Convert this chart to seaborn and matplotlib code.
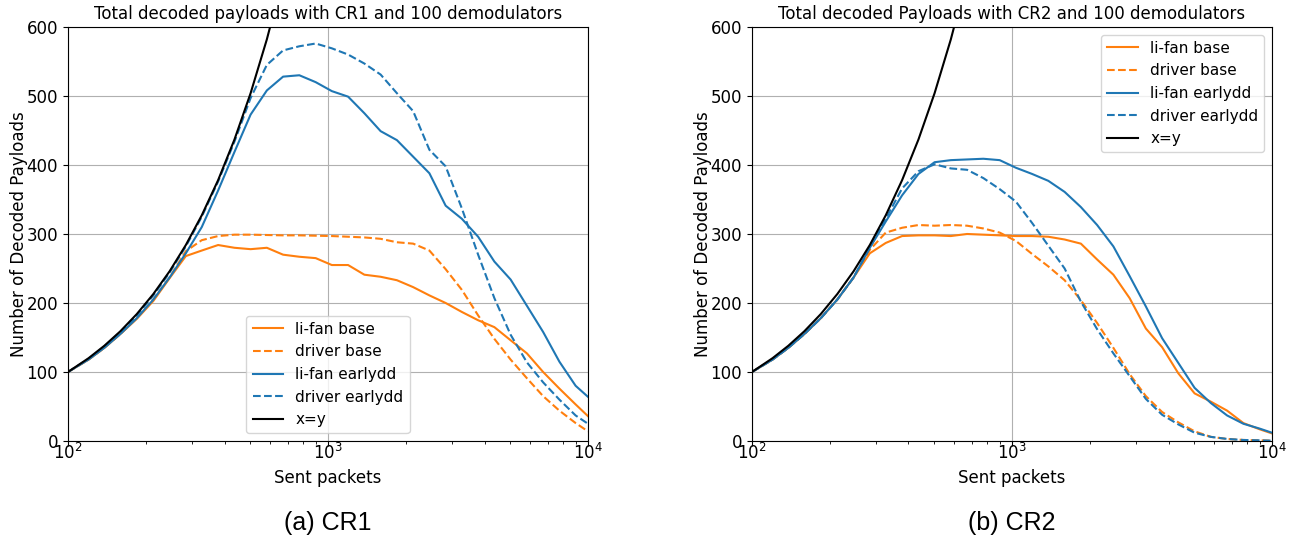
import matplotlib
matplotlib.use("Agg")
import matplotlib.pyplot as plt
import seaborn as sns

# sent packets (shared x grid for both panels)
sent = [100, 120, 138, 159, 184, 213, 246, 284, 327, 378, 437, 504, 582, 672, 776, 897,
        1035, 1195, 1380, 1594, 1841, 2126, 2455, 2835, 3273, 3780, 4365, 5040, 5821,
        6722, 7762, 8964, 10000]

# CR1
cr1_lifan_base = [100, 118, 135, 155, 177, 203, 236, 268, 276, 284, 280, 278, 280, 270, 267, 265,
                  255, 255, 241, 238, 233, 223, 211, 200, 187, 175, 165, 146, 127,
                  100, 76, 53, 36]
cr1_driver_base = [100, 118, 135, 155, 178, 205, 237, 275, 291, 297, 299, 299, 298.5, 298, 298, 297.5,
                   297, 296, 295, 293, 288, 286, 276, 249, 219, 182, 148, 118, 91,
                   65, 44, 26, 14]
cr1_lifan_early = [100, 118, 135, 155, 178, 205, 237, 272, 310, 363, 419, 473, 508, 528, 530, 520,
                   507, 499, 475, 449, 436, 412, 388, 341, 322, 296, 260, 234, 196,
                   158, 115, 80, 64]
cr1_driver_early = [100, 119, 137, 158, 182, 211, 244, 282, 325, 376, 434, 497, 545, 566, 572, 576,
                    569, 560, 547, 531, 504, 478, 422, 398, 337, 270, 207, 154, 114,
                    85, 60, 37, 25]

# CR2
cr2_lifan_base = [100, 118, 135, 155, 178, 205, 237, 272, 287, 297, 298, 298, 297, 300, 299, 298,
                  297, 297, 296, 292, 286, 263, 241, 207, 163, 136, 98, 69, 57,
                  44, 26, 17, 11]
cr2_driver_base = [100, 118, 135, 155, 178, 205, 237, 277, 302, 309, 313, 312, 313, 312, 308, 302,
                   290, 271, 253, 233, 204, 171, 135, 97, 65, 42, 27, 14, 6,
                   3, 1.5, 1, 0.5]
cr2_lifan_early = [100, 118, 135, 155, 178, 205, 237, 280, 318, 356, 387, 404, 407, 408, 409, 407,
                   396, 387, 377, 361, 339, 313, 282, 239, 195, 149, 113, 77, 55,
                   37, 25, 18, 12]
cr2_driver_early = [100, 118, 135, 155, 178, 205, 237, 280, 322, 366, 391, 401, 395, 393, 381, 365,
                    347, 316, 283, 250, 202, 162, 127, 94, 61, 38, 24, 12, 6,
                    3, 1.5, 1, 0.5]

titles = ["Total decoded payloads with CR1 and 100 demodulators",
          "Total decoded Payloads with CR2 and 100 demodulators"]
captions = ["(a) CR1", "(b) CR2"]

plt.rcParams["font.size"] = 12

fig = plt.figure(figsize=(12.92, 5.39), dpi=100)
ax1 = fig.add_axes([0.0526, 0.1818, 0.4025, 0.7682])
ax2 = fig.add_axes([0.582, 0.1818, 0.4025, 0.7682])

panels = [
    (ax1, cr1_lifan_base, cr1_driver_base, cr1_lifan_early, cr1_driver_early, "lower center"),
    (ax2, cr2_lifan_base, cr2_driver_base, cr2_lifan_early, cr2_driver_early, "upper right"),
]

for i, (ax, lb, db, le, de, loc) in enumerate(panels):
    sns.lineplot(x=sent, y=lb, ax=ax, color="tab:orange", label="li-fan base", linewidth=1.5)
    sns.lineplot(x=sent, y=db, ax=ax, color="tab:orange", linestyle="--", label="driver base", linewidth=1.5)
    sns.lineplot(x=sent, y=le, ax=ax, color="tab:blue", label="li-fan earlydd", linewidth=1.5)
    sns.lineplot(x=sent, y=de, ax=ax, color="tab:blue", linestyle="--", label="driver earlydd", linewidth=1.5)
    sns.lineplot(x=sent, y=sent, ax=ax, color="black", label="x=y", linewidth=1.5)
    ax.set_xscale("log")
    ax.set_xlim(100, 10000)
    ax.set_ylim(0, 600)
    ax.grid(True, which="major")
    ax.set_title(titles[i], fontsize=12)
    ax.set_xlabel("Sent packets", fontsize=12)
    ax.set_ylabel("Number of Decoded Payloads", fontsize=12, labelpad=-1)
    ax.legend(loc=loc, fontsize=11)
    ax.tick_params(labelsize=12)
    ax.tick_params(axis="x", which="major", pad=-2)

fig.text(0.2538, 0.03, captions[0], ha="center", va="center", fontsize=18, family="Liberation Sans")
fig.text(0.7833, 0.03, captions[1], ha="center", va="center", fontsize=18, family="Liberation Sans")

fig.savefig("out.png", dpi=100)
